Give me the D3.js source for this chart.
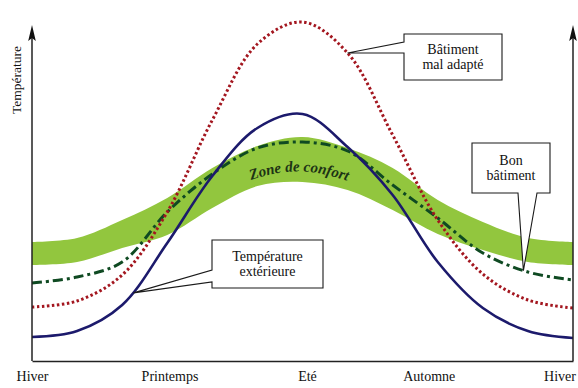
<!DOCTYPE html>
<html>
<head>
<meta charset="utf-8">
<script src="https://cdn.jsdelivr.net/npm/d3@7"></script>
<style>
  body { margin: 0; background: #fff; }
</style>
</head>
<body>
<svg id="chart" width="578" height="388"></svg>
<script>
var SERIF = "\"Liberation Serif\"";

// month index along the year (Hiver -> Hiver)
var months = [0, 1, 2, 3, 4, 5, 6, 7, 8, 9, 10, 11, 12];

// season labels and where they sit on the month axis
var seasons = ["Hiver", "Printemps", "Eté", "Automne", "Hiver"];
var seasonTicks = [0, 3.05, 6.1, 8.8, 11.7];

// (arbitrary temperature units)
var outside = [24, 30, 56, 118, 185, 233, 247, 214, 166, 99, 53, 30, 23];
var badBuilding = [54, 60, 86, 149, 241, 317, 339, 308, 226, 141, 87, 61, 53];
var goodBuilding = [78, 84, 99, 149, 187, 213, 219, 210, 176, 143, 108, 89, 81];
var comfortHigh = [119, 123, 141, 163, 193, 215, 224, 213, 193, 161, 139, 123, 119];
var comfortLow = [96, 99, 113, 126, 153, 175, 179, 171, 151, 127, 111, 99, 96];

var BAND_COLOR = "#92c63e",
    OUTSIDE_COLOR = "#1c1a6c",
    BAD_COLOR = "#a3161f",
    GOOD_COLOR = "#0f4a22",
    AXIS_COLOR = "#222";

var x = d3.scaleLinear().domain([0, 12]).range([32, 573]);
var y = d3.scaleLinear().domain([0, 336]).range([361, 25]);

var svg = d3.select("#chart");

// comfort band
var band = d3.area()
    .x(function(d, i) { return x(months[i]); })
    .y0(function(d, i) { return y(comfortLow[i]); })
    .y1(function(d, i) { return y(comfortHigh[i]); })
    .curve(d3.curveCatmullRom);

svg.append("path")
    .datum(months)
    .attr("d", band)
    .attr("fill", BAND_COLOR);

// label following the band
var mid = d3.line()
    .x(function(d) { return x(d); })
    .y(function(d) { return y((comfortHigh[d] + comfortLow[d]) / 2) + 12; })
    .curve(d3.curveCatmullRom);

svg.append("path")
    .attr("id", "zonePath")
    .datum([3, 4, 5, 6, 7, 8, 9])
    .attr("d", mid)
    .attr("fill", "none");

svg.append("text")
    .style("font-family", SERIF)
    .attr("font-size", 15)
    .attr("font-weight", "bold")
    .attr("font-style", "italic")
    .attr("fill", "#1d3415")
    .append("textPath")
    .attr("href", "#zonePath")
    .attr("startOffset", "49%")
    .attr("text-anchor", "middle")
    .text("Zone de confort");

function curveLine(values) {
    return d3.line()
        .x(function(d, i) { return x(months[i]); })
        .y(function(d) { return y(d); })
        .curve(d3.curveCatmullRom)(values);
}

var goodPath = svg.append("path")
    .attr("d", curveLine(goodBuilding))
    .attr("fill", "none")
    .attr("stroke", GOOD_COLOR)
    .attr("stroke-width", 3)
    .attr("stroke-dasharray", "10,4,3,4");

var badPath = svg.append("path")
    .attr("d", curveLine(badBuilding))
    .attr("fill", "none")
    .attr("stroke", BAD_COLOR)
    .attr("stroke-width", 3)
    .attr("stroke-dasharray", "2.5,2.5");

var outsidePath = svg.append("path")
    .attr("d", curveLine(outside))
    .attr("fill", "none")
    .attr("stroke", OUTSIDE_COLOR)
    .attr("stroke-width", 2.6);

// axes
var xAxis = svg.append("g")
    .attr("transform", "translate(0,361)")
    .call(d3.axisBottom(x)
        .tickValues(seasonTicks)
        .tickFormat(function(d, i) { return seasons[i]; })
        .tickSize(0)
        .tickSizeOuter(0)
        .tickPadding(10));
xAxis.select(".domain").attr("stroke", AXIS_COLOR).attr("stroke-width", 1.5);
xAxis.selectAll("text")
    .style("font-family", SERIF)
    .style("font-size", "14px")
    .attr("fill", "#111");

[32, 573].forEach(function(px) {
    svg.append("line")
        .attr("x1", px).attr("x2", px)
        .attr("y1", 361).attr("y2", 36)
        .attr("stroke", AXIS_COLOR)
        .attr("stroke-width", 1.5);
    svg.append("path")
        .attr("d", "M" + px + ",25 L" + (px + 3.8) + ",41 L" + px + ",38 L" + (px - 3.8) + ",41 Z")
        .attr("fill", "#111");
});

svg.append("text")
    .attr("transform", "translate(21,80) rotate(-90)")
    .attr("text-anchor", "middle")
    .style("font-family", SERIF)
    .style("font-size", "13.5px")
    .attr("fill", "#111")
    .text("Température");

// y of a drawn curve at a given month
function pointOn(pathSel, m) {
    var node = pathSel.node();
    var target = x(m);
    var lo = 0, hi = node.getTotalLength();
    for (var k = 0; k < 40; k++) {
        var md = (lo + hi) / 2;
        if (node.getPointAtLength(md).x < target) lo = md; else hi = md;
    }
    var p = node.getPointAtLength(lo);
    return [p.x, p.y];
}

function callout(box, tip, side, lines) {
    var b = box;
    var d;
    if (side == "left") {
        d = "M" + b.x0 + "," + b.y0 + " H" + b.x1 + " V" + b.y1 + " H" + b.x0 +
            " V" + b.pb + " L" + tip[0] + "," + tip[1] + " L" + b.x0 + "," + b.pa + " Z";
    } else {
        d = "M" + b.x0 + "," + b.y0 + " H" + b.x1 + " V" + b.y1 + " H" + b.pb +
            " L" + tip[0] + "," + tip[1] + " L" + b.pa + "," + b.y1 + " H" + b.x0 + " Z";
    }
    svg.append("path")
        .attr("d", d)
        .attr("fill", "#fff")
        .attr("stroke", "#1a1a1a")
        .attr("stroke-width", 1.1);
    var cx = (b.x0 + b.x1) / 2,
        cy = (b.y0 + b.y1) / 2;
    lines.forEach(function(t, i) {
        svg.append("text")
            .attr("x", cx)
            .attr("y", cy - 3 + i * 15)
            .attr("text-anchor", "middle")
            .style("font-family", SERIF)
            .style("font-size", "14px")
            .attr("fill", "#111")
            .text(t);
    });
}

callout({ x0: 404, y0: 34, x1: 502, y1: 80, pa: 42, pb: 53 },
    pointOn(badPath, 7), "left", ["Bâtiment", "mal adapté"]);

callout({ x0: 472, y0: 143, x1: 550, y1: 193, pa: 518, pb: 537 },
    pointOn(goodPath, 10.9), "bottom", ["Bon", "bâtiment"]);

callout({ x0: 212, y0: 240, x1: 323, y1: 288, pa: 270, pb: 282 },
    pointOn(outsidePath, 2.25), "left", ["Température", "extérieure"]);
</script>
</body>
</html>
